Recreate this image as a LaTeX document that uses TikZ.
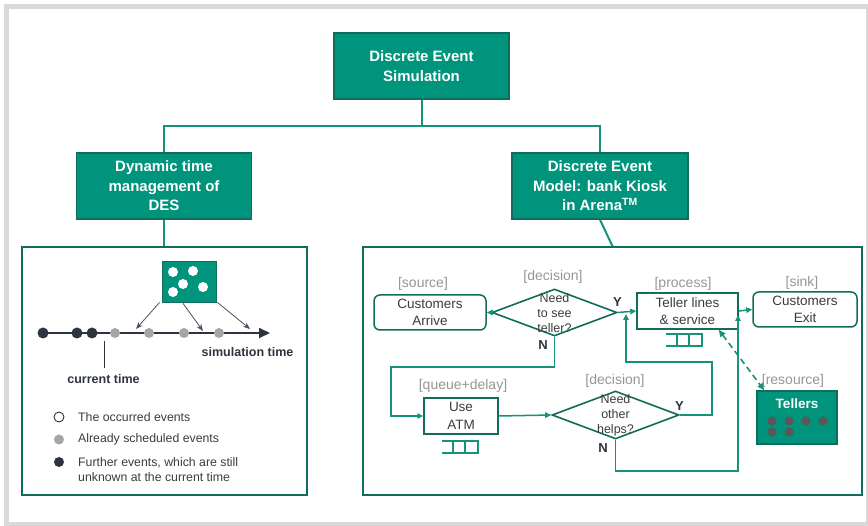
\documentclass[tikz,border=0pt]{standalone}
\usepackage{fontspec}
\setmainfont{Liberation Sans}
\usetikzlibrary{arrows.meta,shapes.geometric,calc}

\definecolor{tealfill}{RGB}{0,148,124}
\definecolor{tealdark}{RGB}{18,108,92}
\definecolor{tealline}{RGB}{22,146,122}
\definecolor{inkdark}{RGB}{45,52,64}
\definecolor{dotgray}{RGB}{166,166,166}
\definecolor{labgray}{RGB}{150,150,150}
\definecolor{txtgray}{RGB}{60,60,60}
\definecolor{framegray}{RGB}{217,217,217}
\definecolor{tdot}{RGB}{88,88,88}

\tikzset{
  hbox/.style={draw=tealdark, fill=tealfill, line width=1.5pt, minimum width=175pt,
    minimum height=66pt, inner sep=0pt, align=center, text=white,
    font=\fontsize{15}{19.5}\selectfont\bfseries},
  tree/.style={draw=tealline, line width=2pt},
  panel/.style={draw=tealdark, line width=1.5pt, inner sep=0pt},
  tdotdark/.style={circle, fill=inkdark, minimum size=11pt, inner sep=0pt},
  tdotgray/.style={circle, fill=dotgray, minimum size=10pt, inner sep=0pt},
  evarrow/.style={draw=inkdark!85, line width=0.8pt, -{Stealth[length=7pt,width=5.5pt]}},
  boldlab/.style={font=\fontsize{12.5}{15}\selectfont\bfseries, text=inkdark, inner sep=0pt},
  legtext/.style={font=\fontsize{12.3}{15}\selectfont, text=txtgray, anchor=west, align=left, inner sep=0pt},
  fbox/.style={draw=tealdark, line width=1.5pt, fill=white, inner sep=0pt, align=center,
    text=txtgray, font=\fontsize{13.5}{17.5}\selectfont},
  rbox/.style={fbox, rounded corners=6pt},
  dia/.style={draw=tealdark, line width=1.6pt, shape=diamond, inner sep=0pt},
  dtext/.style={align=center, text=txtgray, font=\fontsize{12.5}{15}\selectfont, inner sep=0pt},
  tag/.style={text=labgray, font=\fontsize{14}{16}\selectfont, inner sep=0pt},
  yn/.style={text=inkdark, font=\fontsize{13}{15}\selectfont\bfseries, inner sep=0pt},
  flow/.style={draw=tealline, line width=1.5pt, -{Triangle[length=6pt,width=5.5pt]}},
  pics/queuesym/.style={code={
    \draw[tealline, line width=1.3pt] (-18,0) -- (18,0) -- (18,12) -- (-18,12)
      (-7,0) -- (-7,12) (5,0) -- (5,12);
  }}
}

\begin{document}
\begin{tikzpicture}[x=1pt, y=-1pt]
\useasboundingbox (0,0) rectangle (868,526);

% page frame
\fill[framegray] (4,4) rectangle (868,526);
\fill[white] (9,9) rectangle (866,522);

% hierarchy
\node[hbox] (top) at (421.5,66) {Discrete Event\\Simulation};
\node[hbox] (dyn) at (164,186) {Dynamic time\\management of\\DES};
\node[hbox, minimum width=176pt] (mdl) at (600,186) {Discrete Event\\Model: bank Kiosk\\in Arena\textsuperscript{TM}};
\coordinate (tj) at (421.5,126);
\draw[tree] (top.south) -- (tj) -| (dyn.north);
\draw[tree] (tj) -| (mdl.north);

% panels
\node[panel, minimum width=285pt, minimum height=248pt] (lp) at (164.5,371) {};
\node[panel, minimum width=499pt, minimum height=248pt] (rp) at (612.5,371) {};
\draw[tree] (dyn.south) -- (dyn.south |- lp.north);
\draw[tree] (mdl.south) -- (rp.north);

% ---- time management of DES ----
\node[fill=tealfill, draw=tealdark, line width=0.8pt, minimum width=54pt, minimum height=41pt, inner sep=0pt] (ev) at (189,281.5) {};
\foreach \p in {(173,272),(193,271),(183,284),(203,287),(173,292)}
  \fill[white] \p circle[radius=5pt];

\coordinate (t0) at (38,333);
\coordinate (tend) at (270,333);
\draw[inkdark, line width=1.8pt, -{Triangle[length=11pt,width=10pt]}] (t0) -- (tend);
\node[tdotdark] (d1) at (43,333) {};
\node[tdotdark] (d2) at (77,333) {};
\node[tdotdark] (d3) at (92,333) {};
\node[tdotgray] (g1) at (115,333) {};
\node[tdotgray] (g2) at (149,333) {};
\node[tdotgray] (g3) at (184,333) {};
\node[tdotgray] (g4) at (219,333) {};

\coordinate (a1) at (136,329);
\coordinate (a2) at (203,331);
\coordinate (a3) at (250,329);
\draw[evarrow] ($(ev.south west)+(-2,0)$) -- (a1);
\draw[evarrow] ($(ev.south)+(-6,1)$) -- (a2);
\draw[evarrow] ($(ev.south east)+(1,0)$) -- (a3);

\node[boldlab] (st) at (247.5,352) {simulation time};
\node[boldlab] (ct) at (103.5,379) {current time};
\coordinate (tk) at (104,341);
\draw[inkdark, line width=1pt] (tk) -- ($(tk)+(0,27)$);

% legend
\node[circle, draw=inkdark, line width=0.9pt, fill=white, minimum size=10pt, inner sep=0pt] (l1) at (59,417) {};
\node[circle, fill=dotgray, minimum size=10pt, inner sep=0pt] (l2) at (59,439.5) {};
\node[circle, fill=inkdark, minimum size=10pt, inner sep=0pt] (l3) at (59,462) {};
\node[legtext] at (78,417) {The occurred events};
\node[legtext] at (78,439.5) {Already scheduled events};
\node[legtext] at (78,469.5) {Further events, which are still\\unknown at the current time};

% ---- bank kiosk model ----
\node[tag] at (423,284) {[source]};
\node[rbox, minimum width=112pt, minimum height=35pt] (arr) at (430,312.5) {Customers\\Arrive};

\node[tag] at (553,277) {[decision]};
\node[dia, minimum width=125pt, minimum height=47pt] (q1) at (554.5,312.5) {};
\node[dtext] at (554.5,313) {Need\\to see\\teller?};
\node[yn] at (617.5,302) {Y};
\node[yn] at (543,345.5) {N};

\node[tag] at (683,284) {[process]};
\node[fbox, minimum width=101pt, minimum height=36pt] (tel) at (687.5,311) {Teller lines\\\& service};
\pic at (684,334) {queuesym};

\node[tag] at (802,283) {[sink]};
\node[rbox, minimum width=104pt, minimum height=35pt] (snk) at (805,309.5) {Customers\\Exit};

\node[tag] at (463,386) {[queue+delay]};
\node[fbox, minimum width=74pt, minimum height=36pt] (atm) at (461,416) {Use\\ATM};
\pic at (460,441) {queuesym};

\node[tag] at (615,381) {[decision]};
\node[dia, minimum width=127pt, minimum height=48pt] (q2) at (615.5,415) {};
\node[dtext] at (615.5,415) {Need\\other\\helps?};
\node[yn] at (679.5,406) {Y};
\node[yn] at (603,448.5) {N};

\node[tag] at (793,381) {[resource]};
\node[draw=tealdark, fill=tealfill, line width=1.5pt, minimum width=80pt, minimum height=53pt, inner sep=0pt] (res) at (797,417.5) {};
\node[text=white, font=\fontsize{13.5}{16}\selectfont\bfseries, inner sep=0pt] at (797,404) {Tellers};
\foreach \p in {(772,421),(789,421),(806,421),(823,421),(772,432),(789,432)}
  \fill[tdot] \p circle[radius=4.6pt];

% flow connectors
\draw[flow] (q1.west) -- (arr.east);
\draw[flow] (q1.east) -- (tel.west);
\draw[flow] (tel.east) -- (snk.west);
\coordinate (nA) at (391,367);
\draw[flow] (q1.south) |- (nA) |- (atm.west);
\draw[flow] (atm.east) -- (q2.west);
\coordinate (yA) at (712,362);
\coordinate (yB) at (626,314);
\draw[flow] (q2.east) -| (yA) -| (yB);
\coordinate (nB) at (738,471);
\coordinate (nC) at (738,315);
\draw[flow] (q2.south) |- (nB) -- (nC);
\draw[tealline, line width=1.6pt, dash pattern=on 6pt off 4pt,
  {Triangle[length=7pt,width=6pt]}-{Triangle[length=7pt,width=6pt]}]
  ($(tel.south east)+(-20,0)$) -- ($(res.north west)+(8,0)$);

\end{tikzpicture}
\end{document}
